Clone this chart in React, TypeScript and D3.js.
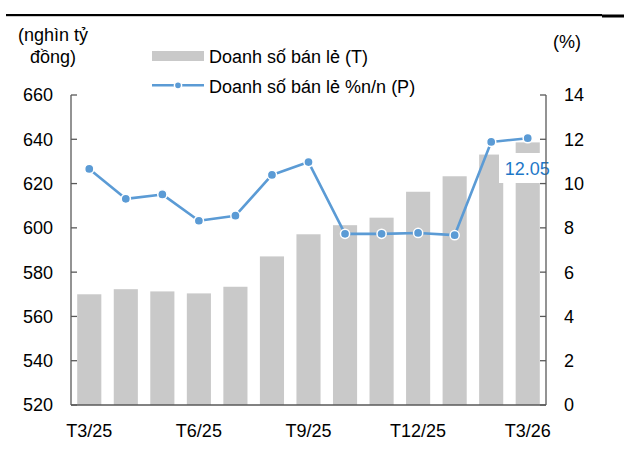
import React from "react";
import * as d3 from "d3";

const categories = ["T3/25","T4/25","T5/25","T6/25","T7/25","T8/25","T9/25","T10/25","T11/25","T12/25","T1/26","T2/26","T3/26"];
const salesValues = [570.0, 572.3, 571.3, 570.4, 573.4, 587.1, 597.1, 601.2, 604.6, 616.3, 623.3, 633.1, 638.6];
const growthValues = [10.66, 9.31, 9.51, 8.32, 8.55, 10.39, 10.97, 7.73, 7.73, 7.77, 7.67, 11.88, 12.05];
const leftTicks = [520, 540, 560, 580, 600, 620, 640, 660];
const rightTicks = [0, 2, 4, 6, 8, 10, 12, 14];
const xTickLabels = ["T3/25", "T6/25", "T9/25", "T12/25", "T3/26"];
const legendBar = "Doanh số bán lẻ (T)";
const legendLine = "Doanh số bán lẻ %n/n (P)";
const leftTitle = ["(nghìn tỷ", "đồng)"];
const rightTitle = "(%)";
const calloutLabel = "12.05";

const W = 624, H = 459;
const left = 71, right = 546, top = 95, bottom = 405;
const FONT = "'Liberation Sans', Arial, sans-serif";
const BAR = "#c9c9c9";
const LINE = "#5b9bd5";
const AXIS = "#595959";

export default function App() {
  const x = d3.scaleBand<string>().domain(categories).range([left, right]).paddingInner(0.34).paddingOuter(0.17);
  const yL = d3.scaleLinear().domain([520, 660]).range([bottom, top]);
  const yR = d3.scaleLinear().domain([0, 14]).range([bottom, top]);
  const cx = (c: string) => (x(c) as number) + x.bandwidth() / 2;
  const lineGen = d3.line<number>().x((_, i) => cx(categories[i])).y(v => yR(v));
  const lastIdx = growthValues.length - 1;
  const lastX = cx(categories[lastIdx]);

  return (
    <svg width={W} height={H} style={{ position: "fixed", left: 0, top: 0, background: "#fff" }} fontFamily={FONT}>
      <rect x={0} y={0} width={W} height={H} fill="#fff" />
      <rect x={6} y={14} width={596} height={2.2} fill="#000" />
      <rect x={602} y={14.5} width={22} height={3} fill="#000" />

      {/* titles */}
      <text x={53} y={41} fontSize={18} textAnchor="middle" fill="#000">{leftTitle[0]}</text>
      <text x={53} y={63} fontSize={18} textAnchor="middle" fill="#000">{leftTitle[1]}</text>
      <text x={567} y={48} fontSize={18} textAnchor="middle" fill="#000">{rightTitle}</text>

      {/* legend */}
      <rect x={152} y={51} width={52} height={10} fill={BAR} />
      <text x={209} y={62.5} fontSize={18} fill="#000">{legendBar}</text>
      <line x1={152} x2={204} y1={85.3} y2={85.3} stroke={LINE} strokeWidth={2.5} />
      <circle cx={178} cy={85.3} r={3.6} fill={LINE} stroke="#fff" strokeWidth={1.5} />
      <text x={209} y={93.3} fontSize={18} fill="#000">{legendLine}</text>

      {/* bars */}
      {salesValues.map((v, i) => (
        <rect key={i} x={x(categories[i])} y={yL(v)} width={x.bandwidth()} height={yL(520) - yL(v)} fill={BAR} />
      ))}

      {/* callout box */}
      <rect x={499} y={153} width={56} height={30} fill="#fff" />

      {/* line */}
      <path d={lineGen(growthValues) || ""} fill="none" stroke={LINE} strokeWidth={2.6} strokeLinejoin="round" />
      {growthValues.map((v, i) => (
        <circle key={i} cx={cx(categories[i])} cy={yR(v)} r={4.6} fill={LINE} stroke="#fff" strokeWidth={1.5} />
      ))}
      <text x={lastX - 23} y={175} fontSize={18} fill="#1e78c8">{calloutLabel}</text>

      {/* axes */}
      <line x1={left} x2={left} y1={top} y2={bottom} stroke={AXIS} strokeWidth={1.3} />
      <line x1={right} x2={right} y1={top} y2={bottom} stroke={AXIS} strokeWidth={1.3} />
      <line x1={left} x2={right} y1={bottom} y2={bottom} stroke={AXIS} strokeWidth={1.6} />
      {leftTicks.map(t => (
        <g key={"l" + t}>
          <line x1={left} x2={left + 6} y1={yL(t)} y2={yL(t)} stroke={AXIS} strokeWidth={1.3} />
          <text x={53} y={yL(t)} dy="0.36em" fontSize={18} textAnchor="end" fill="#000">{t}</text>
        </g>
      ))}
      {rightTicks.map(t => (
        <g key={"r" + t}>
          <line x1={right - 6} x2={right} y1={yR(t)} y2={yR(t)} stroke={AXIS} strokeWidth={1.3} />
          <text x={564} y={yR(t)} dy="0.36em" fontSize={18} textAnchor="start" fill="#000">{t}</text>
        </g>
      ))}
      {xTickLabels.map(lbl => (
        <text key={lbl} x={cx(lbl)} y={437} fontSize={18} textAnchor="middle" fill="#000">{lbl}</text>
      ))}
    </svg>
  );
}
